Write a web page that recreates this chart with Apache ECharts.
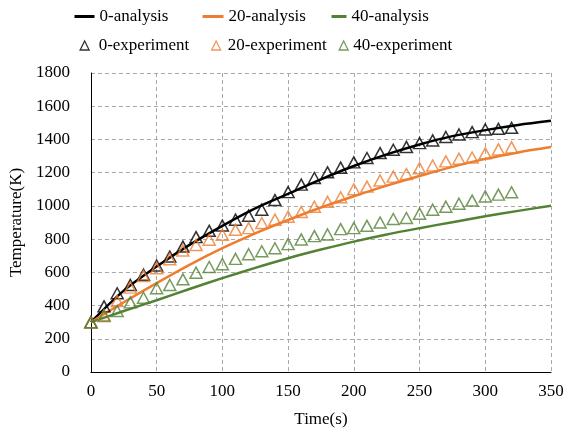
<!DOCTYPE html>
<html>
<head>
<meta charset="utf-8">
<script src="https://cdn.jsdelivr.net/npm/echarts@6/dist/echarts.min.js"></script>
<style>
  html, body { margin: 0; padding: 0; background: #fff; }
  #chart { width: 569px; height: 434px; }
</style>
</head>
<body>
<div id="chart"></div>
<script>
// experiment samples, every 10 s
const expTime = [0, 10, 20, 30, 40, 50, 60, 70, 80, 90, 100, 110, 120, 130, 140, 150, 160,
  170, 180, 190, 200, 210, 220, 230, 240, 250, 260, 270, 280, 290, 300, 310, 320];
const exp0 = [300, 395, 474, 524, 586, 641, 695, 755, 812, 850, 882, 917, 941, 977, 1035, 1083, 1128,
  1168, 1202, 1230, 1262, 1288, 1318, 1338, 1355, 1378, 1394, 1415, 1430, 1444, 1460, 1464, 1470];
const exp20 = [300, 343, 427, 508, 578, 625, 679, 731, 765, 796, 826, 856, 866, 897, 917, 935, 963,
  995, 1024, 1052, 1100, 1116, 1153, 1176, 1192, 1227, 1243, 1268, 1284, 1291, 1316, 1340, 1352];
const exp40 = [300, 337, 367, 419, 447, 504, 524, 558, 598, 632, 649, 681, 709, 727, 745, 770, 798,
  818, 828, 860, 866, 880, 900, 921, 927, 953, 977, 995, 1013, 1032, 1057, 1068, 1082];

// analysis curves, read every 25 s
const anaTime = [0, 25, 50, 75, 100, 125, 150, 175, 200, 225, 250, 275, 300, 325, 350];
const ana0 = [300, 490, 635, 765, 880, 985, 1072, 1160, 1240, 1310, 1370, 1420, 1456, 1487, 1512];
const ana20 = [300, 420, 535, 645, 745, 835, 915, 990, 1058, 1122, 1180, 1235, 1283, 1322, 1354];
const ana40 = [300, 367, 432, 500, 565, 627, 685, 737, 785, 828, 866, 902, 937, 970, 1001];

const BLACK = "#000000";
const ORANGE = "#ED7D31";
const GREEN = "#548235";
const GRID = "#a8a8a8";
const FONT = "'Liberation Serif', 'Times New Roman', serif";

function pairs(xs, ys) {
  return xs.map((x, i) => [x, ys[i]]);
}

function lineSeries(name, ys, color) {
  return {
    name,
    type: "line",
    data: pairs(anaTime, ys),
    smooth: 0.3,
    symbol: "none",
    lineStyle: { width: 2.5, color },
    itemStyle: { color },
    z: 2,
  };
}

function expSeries(name, ys, color) {
  return {
    name,
    type: "scatter",
    data: pairs(expTime, ys),
    symbol: "triangle",
    symbolSize: [12, 11],
    itemStyle: { color: "rgba(255,255,255,0)", borderColor: color, borderWidth: 1.5 },
    z: 3,
  };
}

// line entries: icon box then the fixed 5px gap to the text
function lineLegend(name, left, w) {
  return {
    data: [name],
    left,
    top: 8,
    itemWidth: w,
    itemHeight: 3,
    padding: 0,
    selectedMode: false,
    lineStyle: { width: 3 },
    textStyle: { fontFamily: FONT, fontSize: 17, color: "#000" },
  };
}

// triangle entries: square icon box, extra text padding to land the text
function markLegend(name, centerX, textX) {
  const size = 9;
  const left = centerX - size / 2;
  return {
    data: [name],
    left,
    top: 37,
    itemWidth: size,
    itemHeight: size,
    padding: 0,
    selectedMode: false,
    itemStyle: { borderWidth: 1.3 },
    textStyle: {
      fontFamily: FONT,
      fontSize: 17,
      color: "#000",
      padding: [0, 0, 0, Math.max(0, textX - (left + size + 5))],
    },
  };
}

const chart = echarts.init(document.getElementById("chart"));

chart.setOption({
  animation: false,
  backgroundColor: "#fff",
  textStyle: { fontFamily: FONT },
  grid: { left: 90, right: 18, top: 73, bottom: 62 },
  legend: [
    lineLegend("0-analysis", 73, 20),
    lineLegend("20-analysis", 201, 21),
    lineLegend("40-analysis", 330, 15),
    markLegend("0-experiment", 84, 98),
    markLegend("20-experiment", 215.5, 227),
    markLegend("40-experiment", 343, 348),
  ],
  xAxis: {
    type: "value",
    min: 0,
    max: 350,
    interval: 50,
    name: "Time(s)",
    nameLocation: "middle",
    nameGap: 39,
    nameTextStyle: { fontFamily: FONT, fontSize: 17, color: "#000" },
    axisLine: { onZero: false, lineStyle: { color: "#000", width: 1 } },
    axisTick: { show: false },
    axisLabel: {
      fontFamily: FONT,
      fontSize: 17,
      color: "#000",
      margin: 11,
      alignMinLabel: "center",
      alignMaxLabel: "center",
    },
    splitLine: { show: true, lineStyle: { color: GRID, type: [4, 3], width: 1 } },
  },
  yAxis: {
    type: "value",
    min: 0,
    max: 1800,
    interval: 200,
    name: "Temperature(K)",
    nameLocation: "middle",
    nameGap: 63,
    nameTextStyle: { fontFamily: FONT, fontSize: 17, color: "#000" },
    axisLine: { show: true, lineStyle: { color: "#000", width: 1 } },
    axisTick: { show: false },
    axisLabel: {
      fontFamily: FONT,
      fontSize: 17,
      color: "#000",
      margin: 21,
      formatter: (v) => String(v),
    },
    splitLine: { show: true, lineStyle: { color: GRID, type: [4, 3], width: 1 } },
  },
  series: [
    lineSeries("0-analysis", ana0, BLACK),
    lineSeries("20-analysis", ana20, ORANGE),
    lineSeries("40-analysis", ana40, GREEN),
    expSeries("0-experiment", exp0, BLACK),
    expSeries("20-experiment", exp20, ORANGE),
    expSeries("40-experiment", exp40, GREEN),
  ],
});
</script>
</body>
</html>
